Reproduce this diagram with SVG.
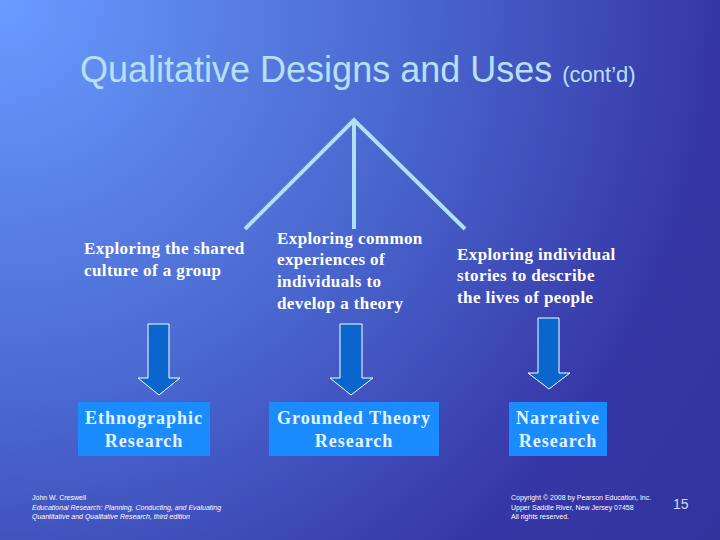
<svg xmlns="http://www.w3.org/2000/svg" width="720" height="540" viewBox="0 0 720 540">
<defs>
<radialGradient id="bg" cx="0" cy="0" r="900" gradientUnits="userSpaceOnUse">
<stop offset="0" stop-color="#6a9cff"/>
<stop offset="0.45" stop-color="#4a68d0"/>
<stop offset="0.8" stop-color="#3636a6"/>
<stop offset="1" stop-color="#33339e"/>
</radialGradient>
<style>
.title{font-family:"Liberation Sans",Arial,sans-serif;fill:#b8e0f4}
.desc{font-family:"Liberation Serif","Times New Roman",serif;font-weight:bold;font-size:17px;letter-spacing:0.4px;fill:#ffffff}
.box{fill:#1a8cff}
.boxt{font-family:"Liberation Serif","Times New Roman",serif;font-weight:bold;font-size:18px;letter-spacing:1px;fill:#e6f4ff;text-anchor:middle}
.arrow{fill:#0a66cc;stroke:#ffffff;stroke-width:1}
.line{stroke:#b0e0f2;stroke-width:4;fill:none;stroke-linecap:butt}
.foot{font-family:"Liberation Sans",Arial,sans-serif;font-size:7px;fill:#ffffff}
</style>
</defs>
<rect width="720" height="540" fill="url(#bg)"/>
<text class="title" x="80" y="82" font-size="36">Qualitative Designs and Uses <tspan font-size="22">(cont’d)</tspan></text>
<g id="connectors">
<path class="line" d="M245 229 L354 120 L465 229"/>
<path class="line" d="M354 121 L354 229"/>
<path class="arrow" d="M148 324 H169 V378 H180 L159 395 L138 378 H148 Z"/>
<path class="arrow" d="M340 324 H362 V378 H373 L351 395 L330 378 H340 Z"/>
<path class="arrow" d="M538 318 H559 V373 H570 L549 389 L528 373 H538 Z"/>
</g>
<g id="desc-ethno"><text class="desc" x="84" y="254">Exploring the shared</text><text class="desc" x="84" y="276">culture of a group</text></g>
<g id="desc-grounded"><text class="desc" x="277" y="244">Exploring common</text><text class="desc" x="277" y="265">experiences of</text><text class="desc" x="277" y="287">individuals to</text><text class="desc" x="277" y="309">develop a theory</text></g>
<g id="desc-narrative"><text class="desc" x="457" y="260">Exploring individual</text><text class="desc" x="457" y="281">stories to describe</text><text class="desc" x="457" y="303">the lives of people</text></g>
<g id="ethno"><rect class="box" x="78" y="402" width="132" height="54"/><text class="boxt" x="144" y="424">Ethnographic</text><text class="boxt" x="144" y="447">Research</text></g>
<g id="grounded"><rect class="box" x="269" y="402" width="170" height="54"/><text class="boxt" x="354" y="424">Grounded Theory</text><text class="boxt" x="354" y="447">Research</text></g>
<g id="narrative"><rect class="box" x="509" y="402" width="98" height="54"/><text class="boxt" x="558" y="424">Narrative</text><text class="boxt" x="558" y="447">Research</text></g>
<text class="foot" x="32" y="500">John W. Creswell</text>
<text class="foot" x="32" y="510" font-style="italic">Educational Research: Planning, Conducting, and Evaluating</text>
<text class="foot" x="32" y="519" font-style="italic">Quantitative and Qualitative Research, third edition</text>
<text class="foot" x="511" y="500">Copyright © 2008 by Pearson Education, Inc.</text>
<text class="foot" x="511" y="510">Upper Saddle River, New Jersey 07458</text>
<text class="foot" x="511" y="519">All rights reserved.</text>
<text x="673" y="509" font-family="Liberation Sans,Arial,sans-serif" font-size="14" fill="#c8dcf8">15</text>
</svg>
